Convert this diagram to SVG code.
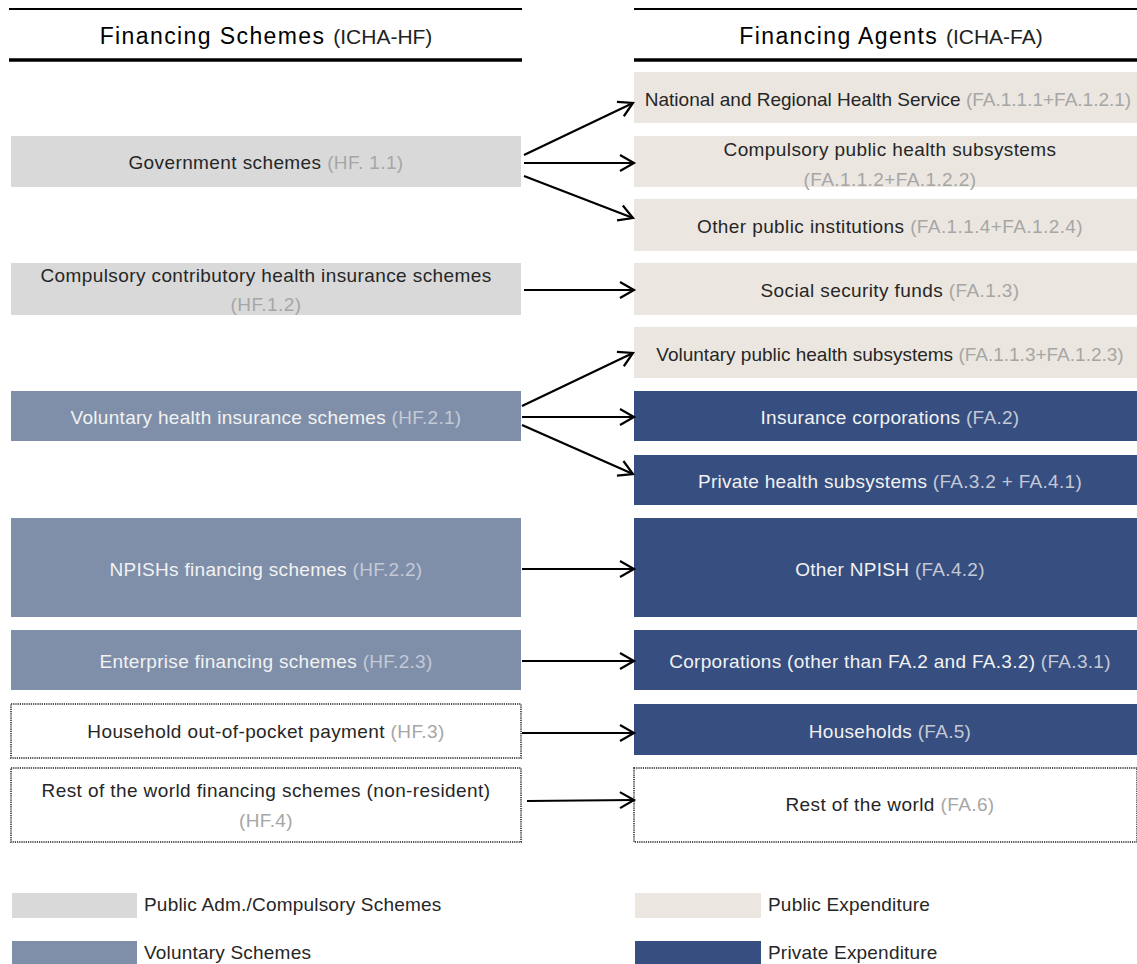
<svg xmlns="http://www.w3.org/2000/svg" width="1137" height="964" viewBox="0 0 1137 964">
<defs>
<marker id="ah" markerWidth="20" markerHeight="20" refX="16" refY="10" orient="auto" markerUnits="userSpaceOnUse">
<polyline points="2,2 16,10 2,18" fill="none" stroke="#000" stroke-width="2.2"/>
</marker>
<style>
.t{font-family:"Liberation Sans",Arial,sans-serif;font-size:19px;letter-spacing:0.4px;fill:#262626;text-anchor:middle}
.tw{font-family:"Liberation Sans",Arial,sans-serif;font-size:19px;letter-spacing:0.3px;fill:#f2f2f2;text-anchor:middle}
.g{fill:#a6a6a6}
.gw{fill:#c4c9d6}
.pub{fill:#d9d9d9}
.vol{fill:#7f8fa9}
.pe{fill:#ebe7e0}
.pr{fill:#374e80}
.dot{fill:#fff;stroke:#555;stroke-width:2;stroke-dasharray:1.2 1}
.h{font-family:"Liberation Sans",Arial,sans-serif;font-size:23px;fill:#000;text-anchor:middle;letter-spacing:1.4px}
.hs{font-size:21px;letter-spacing:0;fill:#222}
.lg{font-family:"Liberation Sans",Arial,sans-serif;font-size:19px;letter-spacing:0.2px;fill:#262626}
.c{stroke:#000;stroke-width:2.2;fill:none}
</style>
</defs>
<g id="header-left">
<line x1="9" y1="9" x2="522" y2="9" stroke="#000" stroke-width="2"/>
<line x1="9" y1="60" x2="522" y2="60" stroke="#000" stroke-width="3.5"/>
<text class="h" x="266" y="44">Financing Schemes <tspan class="hs">(ICHA-HF)</tspan></text>
</g>
<g id="header-right">
<line x1="634" y1="9" x2="1137" y2="9" stroke="#000" stroke-width="2"/>
<line x1="634" y1="60" x2="1137" y2="60" stroke="#000" stroke-width="3.5"/>
<text class="h" x="891" y="44">Financing Agents <tspan class="hs">(ICHA-FA)</tspan></text>
</g>
<g id="hf11"><rect class="pub" x="11" y="136" width="510" height="51"/><text class="t" x="266" y="169">Government schemes <tspan class="g">(HF. 1.1)</tspan></text></g>
<g id="hf12"><rect class="pub" x="11" y="263" width="510" height="52"/><text class="t" x="266" y="282">Compulsory contributory health insurance schemes</text><text class="t g" x="266" y="311">(HF.1.2)</text></g>
<g id="hf21"><rect class="vol" x="11" y="391" width="510" height="50"/><text class="tw" x="266" y="424">Voluntary health insurance schemes <tspan class="gw">(HF.2.1)</tspan></text></g>
<g id="hf22"><rect class="vol" x="11" y="518" width="510" height="99"/><text class="tw" x="266" y="576">NPISHs financing schemes <tspan class="gw">(HF.2.2)</tspan></text></g>
<g id="hf23"><rect class="vol" x="11" y="630" width="510" height="60"/><text class="tw" x="266" y="668">Enterprise financing schemes <tspan class="gw">(HF.2.3)</tspan></text></g>
<g id="hf3"><rect class="dot" x="11" y="704" width="510" height="54"/><text class="t" x="266" y="738">Household out-of-pocket payment <tspan class="g">(HF.3)</tspan></text></g>
<g id="hf4"><rect class="dot" x="11" y="768" width="510" height="74"/><text class="t" x="266" y="797">Rest of the world financing schemes (non-resident)</text><text class="t g" x="266" y="827">(HF.4)</text></g>
<g id="fa11"><rect class="pe" x="634" y="72" width="503" height="51"/><text class="t" x="888" y="106" style="letter-spacing:0">National and Regional Health Service <tspan class="g">(FA.1.1.1+FA.1.2.1)</tspan></text></g>
<g id="fa12"><rect class="pe" x="634" y="136" width="503" height="51"/><text class="t" x="890" y="156">Compulsory public health subsystems</text><text class="t g" x="890" y="186">(FA.1.1.2+FA.1.2.2)</text></g>
<g id="fa14"><rect class="pe" x="634" y="199" width="503" height="52"/><text class="t" x="890" y="233">Other public institutions <tspan class="g">(FA.1.1.4+FA.1.2.4)</tspan></text></g>
<g id="fa13"><rect class="pe" x="634" y="263" width="503" height="52"/><text class="t" x="890" y="297">Social security funds <tspan class="g">(FA.1.3)</tspan></text></g>
<g id="fa113"><rect class="pe" x="634" y="327" width="503" height="51"/><text class="t" x="890" y="361" style="letter-spacing:0">Voluntary public health subsystems <tspan class="g">(FA.1.1.3+FA.1.2.3)</tspan></text></g>
<g id="fa2"><rect class="pr" x="634" y="391" width="503" height="50"/><text class="tw" x="890" y="424">Insurance corporations <tspan class="gw">(FA.2)</tspan></text></g>
<g id="fa32"><rect class="pr" x="634" y="455" width="503" height="50"/><text class="tw" x="890" y="488">Private health subsystems <tspan class="gw">(FA.3.2 + FA.4.1)</tspan></text></g>
<g id="fa42"><rect class="pr" x="634" y="518" width="503" height="99"/><text class="tw" x="890" y="576">Other NPISH <tspan class="gw">(FA.4.2)</tspan></text></g>
<g id="fa31"><rect class="pr" x="634" y="630" width="503" height="60"/><text class="tw" x="890" y="668">Corporations (other than FA.2 and FA.3.2) <tspan class="gw">(FA.3.1)</tspan></text></g>
<g id="fa5"><rect class="pr" x="634" y="704" width="503" height="51"/><text class="tw" x="890" y="738">Households <tspan class="gw">(FA.5)</tspan></text></g>
<g id="fa6"><rect class="dot" x="634" y="768" width="503" height="74"/><text class="t" x="890" y="811">Rest of the world <tspan class="g">(FA.6)</tspan></text></g>
<g id="connectors">
<line class="c" x1="524" y1="155" x2="633" y2="103" marker-end="url(#ah)"/>
<line class="c" x1="524" y1="163" x2="634" y2="163" marker-end="url(#ah)"/>
<line class="c" x1="524" y1="176" x2="633" y2="218" marker-end="url(#ah)"/>
<line class="c" x1="524" y1="290" x2="634" y2="290" marker-end="url(#ah)"/>
<line class="c" x1="522" y1="406" x2="633" y2="353" marker-end="url(#ah)"/>
<line class="c" x1="522" y1="417" x2="634" y2="417" marker-end="url(#ah)"/>
<line class="c" x1="522" y1="425" x2="633" y2="474" marker-end="url(#ah)"/>
<line class="c" x1="522" y1="569" x2="634" y2="569" marker-end="url(#ah)"/>
<line class="c" x1="522" y1="661" x2="634" y2="661" marker-end="url(#ah)"/>
<line class="c" x1="522" y1="733" x2="634" y2="733" marker-end="url(#ah)"/>
<line class="c" x1="527" y1="801" x2="634" y2="800" marker-end="url(#ah)"/>
</g>
<g id="legend">
<rect class="pub" x="12" y="893" width="125" height="25"/><text class="lg" x="144" y="911">Public Adm./Compulsory Schemes</text>
<rect class="vol" x="12" y="941" width="125" height="24"/><text class="lg" x="144" y="959">Voluntary Schemes</text>
<rect class="pe" x="635" y="893" width="126" height="25"/><text class="lg" x="768" y="911">Public Expenditure</text>
<rect class="pr" x="635" y="941" width="126" height="24"/><text class="lg" x="768" y="959">Private Expenditure</text>
</g>
</svg>
